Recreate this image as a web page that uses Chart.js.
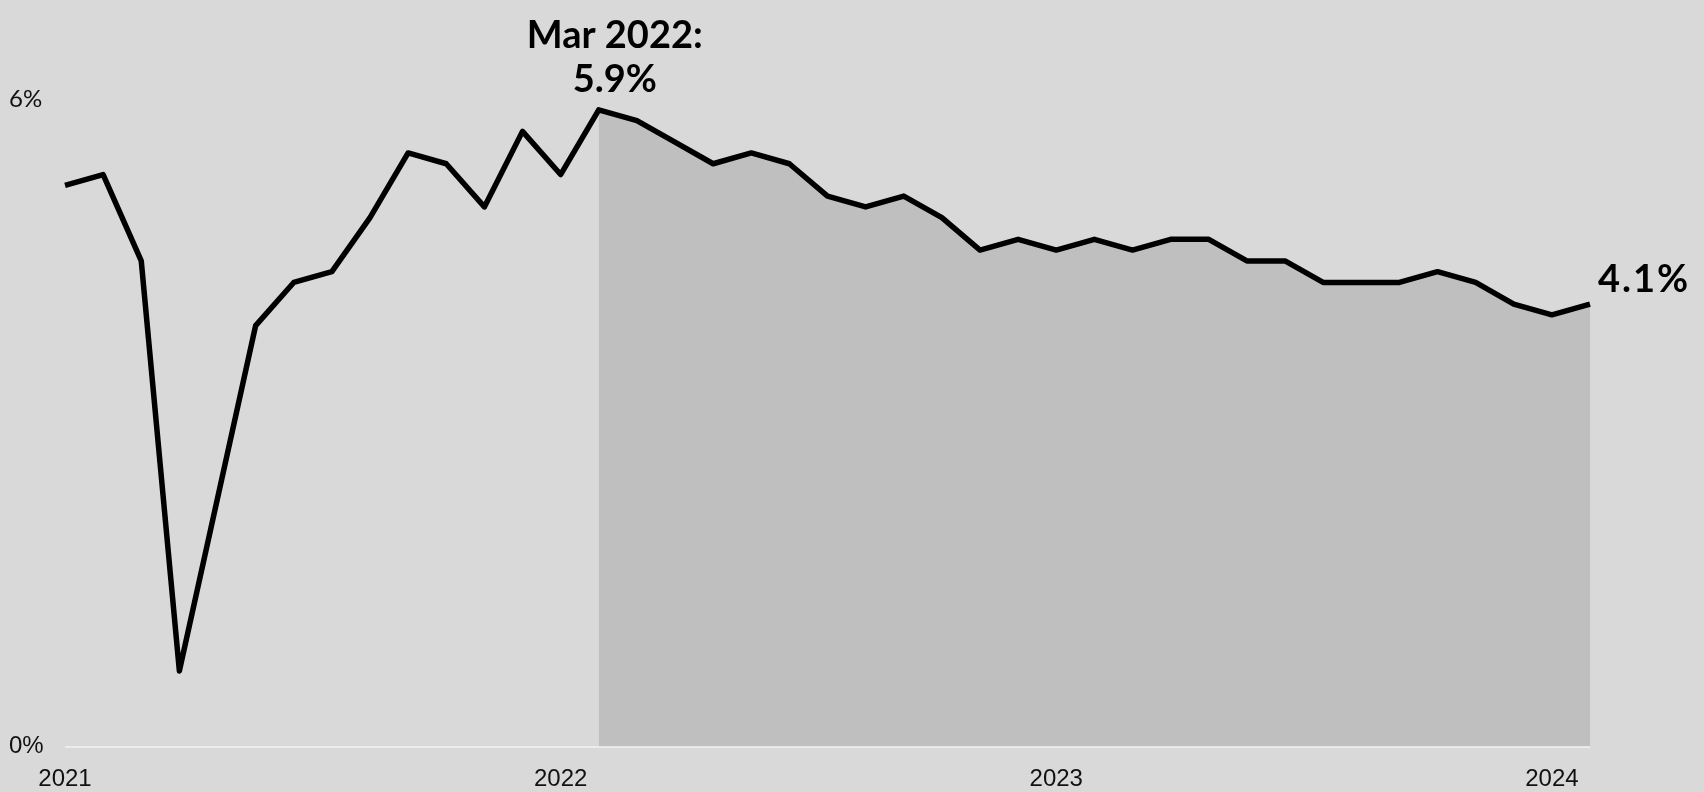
<!DOCTYPE html>
<html>
<head>
<meta charset="utf-8">
<script src="https://cdn.jsdelivr.net/npm/chart.js@4.4.1/dist/chart.umd.min.js"></script>
<style>
  html, body { margin: 0; padding: 0; background: #d9d9d9; }
  #wrap { width: 1704px; height: 792px; position: relative; }
</style>
</head>
<body>
<div id="wrap"><canvas id="rateChart"></canvas></div>
<script>
// monthly readings, Jan 2021 - May 2024
const months = [
  'Jan 2021', 'Feb 2021', 'Mar 2021', 'Apr 2021', 'May 2021', 'Jun 2021',
  'Jul 2021', 'Aug 2021', 'Sep 2021', 'Oct 2021', 'Nov 2021', 'Dec 2021',
  'Jan 2022', 'Feb 2022', 'Mar 2022', 'Apr 2022', 'May 2022', 'Jun 2022',
  'Jul 2022', 'Aug 2022', 'Sep 2022', 'Oct 2022', 'Nov 2022', 'Dec 2022',
  'Jan 2023', 'Feb 2023', 'Mar 2023', 'Apr 2023', 'May 2023', 'Jun 2023',
  'Jul 2023', 'Aug 2023', 'Sep 2023', 'Oct 2023', 'Nov 2023', 'Dec 2023',
  'Jan 2024', 'Feb 2024', 'Mar 2024', 'Apr 2024', 'May 2024'
];
const rates = [
  5.2, 5.3, 4.5, 0.7, 2.3, 3.9, 4.3, 4.4, 4.9, 5.5, 5.4, 5.0,
  5.7, 5.3, 5.9, 5.8, 5.6, 5.4, 5.5, 5.4, 5.1, 5.0, 5.1, 4.9,
  4.6, 4.7, 4.6, 4.7, 4.6, 4.7, 4.7, 4.5, 4.5, 4.3, 4.3, 4.3,
  4.4, 4.3, 4.1, 4.0, 4.1
];
const yearTicks = ['2021', '2022', '2023', '2024'];
const tickEvery = 13;      // one year label every 13 points, as in the original
const yTicks = [0, 6];
const peakIndex = 14;      // Mar 2022, start of the shaded part

// shaded area from the peak to the end
const shaded = rates.map((v, i) => i >= peakIndex ? v : null);

const annotate = {
  id: 'annotate',
  afterDatasetsDraw(chart) {
    const ctx = chart.ctx;
    const pts = chart.getDatasetMeta(0).data;
    const peak = pts[peakIndex];
    const last = pts[pts.length - 1];
    ctx.save();
    ctx.fillStyle = '#000';
    ctx.font = 'bold 38px Lato';
    ctx.textAlign = 'center';
    ctx.textBaseline = 'alphabetic';
    ctx.fillText(months[peakIndex] + ':', peak.x + 16, peak.y - 62);
    ctx.fillText(rates[peakIndex].toFixed(1) + '%', peak.x + 16, peak.y - 18);
    ctx.textAlign = 'left';
    ctx.letterSpacing = '2px';
    ctx.fillText(rates[rates.length - 1].toFixed(1) + '%', last.x + 8, last.y - 12);
    ctx.restore();
  }
};

new Chart(document.getElementById('rateChart'), {
  type: 'line',
  data: {
    labels: months,
    datasets: [
      {
        data: rates,
        borderColor: '#000',
        borderWidth: 5.5,
        borderJoinStyle: 'round',
        borderCapStyle: 'butt',
        pointRadius: 0,
        tension: 0,
        fill: false
      },
      {
        data: shaded,
        borderWidth: 0,
        pointRadius: 0,
        backgroundColor: '#bfbfbf',
        fill: 'origin'
      }
    ]
  },
  options: {
    responsive: true,
    maintainAspectRatio: false,
    animation: false,
    layout: { padding: { left: 9, right: 114, top: 99, bottom: 0 } },
    plugins: {
      legend: { display: false },
      tooltip: { enabled: false }
    },
    scales: {
      x: {
        afterFit: s => { s.height = 45.5; },
        afterBuildTicks: s => { s.ticks = s.ticks.filter(t => t.value % tickEvery === 0); },
        grid: { display: false },
        border: { display: false },
        ticks: {
          autoSkip: false,
          maxRotation: 0,
          padding: 10,
          color: '#111',
          font: { family: 'Liberation Sans', size: 24 },
          callback: v => yearTicks[v / tickEvery]
        }
      },
      y: {
        min: 0,
        max: 6,
        z: 1,
        afterFit: s => { s.width = 56; },
        afterBuildTicks: s => { s.ticks = yTicks.map(v => ({ value: v })); },
        border: { display: false },
        grid: {
          drawTicks: false,
          lineWidth: 2,
          color: c => (c.tick && c.tick.value === 0) ? '#ececec' : 'rgba(0,0,0,0)'
        },
        ticks: {
          crossAlign: 'far',
          padding: 0,
          color: '#111',
          font: c => (c.tick && c.tick.value === 0)
            ? { family: 'Liberation Sans', size: 24 }
            : { family: 'Lato', size: 24 },
          callback: v => v + '%'
        }
      }
    }
  },
  plugins: [annotate]
});
</script>
</body>
</html>
